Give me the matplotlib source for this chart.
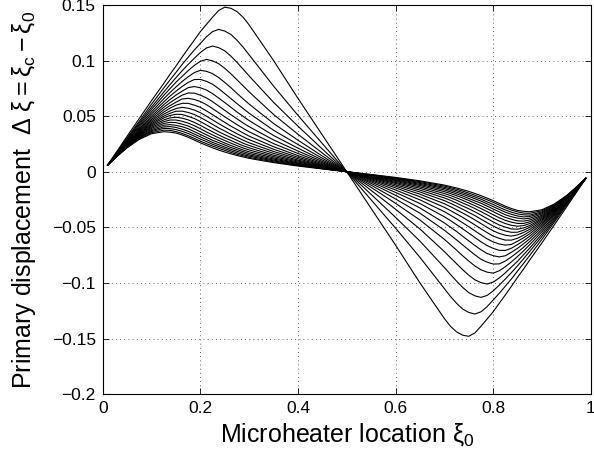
import matplotlib
matplotlib.use("Agg")
import matplotlib.pyplot as plt

plt.rcParams["font.family"] = ["Liberation Sans", "DejaVu Sans"]
plt.rcParams["mathtext.fontset"] = "custom"
plt.rcParams["mathtext.rm"] = "Liberation Sans"
plt.rcParams["mathtext.it"] = "Liberation Sans"
plt.rcParams["mathtext.default"] = "regular"

# heater positions on the left half (right half is the mirror image, y -> -y)
x_half = [0.01, 0.03, 0.05, 0.075, 0.1, 0.125, 0.1375, 0.15, 0.1625, 0.175,
          0.1875, 0.2, 0.2125, 0.225, 0.2375, 0.25, 0.2625, 0.275, 0.2875,
          0.3, 0.35, 0.4, 0.45, 0.5]

# displacement, one list per curve (largest first)
curve_1 = [0.006, 0.019, 0.032, 0.048, 0.064, 0.0794, 0.0874, 0.095, 0.103, 0.1108, 0.1183, 0.126, 0.1325, 0.139, 0.145, 0.148, 0.147, 0.144, 0.139, 0.132, 0.100, 0.066, 0.033, 0.0]
curve_2 = [0.006, 0.0182, 0.0305, 0.0455, 0.0608, 0.0753, 0.0824, 0.0893, 0.0964, 0.1029, 0.1094, 0.1154, 0.1214, 0.126, 0.128, 0.1265, 0.1235, 0.1183, 0.1121, 0.1051, 0.0770, 0.0507, 0.0253, 0.0]
curve_3 = [0.006, 0.0177, 0.0295, 0.0440, 0.0582, 0.0716, 0.0782, 0.0846, 0.0907, 0.0965, 0.1020, 0.1072, 0.1113, 0.113, 0.1116, 0.1087, 0.1040, 0.0984, 0.0923, 0.0861, 0.0624, 0.0410, 0.0204, 0.0]
curve_4 = [0.006, 0.0174, 0.0287, 0.0425, 0.0561, 0.0686, 0.0746, 0.0805, 0.0857, 0.0909, 0.0956, 0.0993, 0.101, 0.0997, 0.0972, 0.0930, 0.0881, 0.0827, 0.0773, 0.0718, 0.0515, 0.0337, 0.0168, 0.0]
curve_5 = [0.006, 0.0169, 0.0280, 0.0412, 0.0539, 0.0656, 0.0711, 0.0762, 0.0811, 0.0854, 0.0891, 0.0912, 0.0903, 0.0882, 0.0847, 0.0803, 0.0756, 0.0705, 0.0656, 0.0608, 0.0434, 0.0284, 0.0141, 0.0]
curve_6 = [0.006, 0.0167, 0.0272, 0.0399, 0.0520, 0.0628, 0.0679, 0.0724, 0.0766, 0.0803, 0.0829, 0.0830, 0.0813, 0.0787, 0.0747, 0.0703, 0.0658, 0.0613, 0.0569, 0.0526, 0.0373, 0.0245, 0.0121, 0.0]
curve_7 = [0.006, 0.0163, 0.0265, 0.0386, 0.0501, 0.0603, 0.0648, 0.0689, 0.0724, 0.0756, 0.0766, 0.0755, 0.0735, 0.0702, 0.0663, 0.0622, 0.0580, 0.0537, 0.0499, 0.0460, 0.0326, 0.0212, 0.0105, 0.0]
curve_8 = [0.006, 0.0161, 0.0259, 0.0377, 0.0485, 0.0580, 0.0620, 0.0656, 0.0688, 0.0708, 0.0707, 0.0689, 0.0664, 0.0630, 0.0591, 0.0552, 0.0513, 0.0476, 0.0439, 0.0405, 0.0286, 0.0186, 0.0092, 0.0]
curve_9 = [0.006, 0.0158, 0.0253, 0.0368, 0.0470, 0.0558, 0.0594, 0.0625, 0.0654, 0.0660, 0.0650, 0.0631, 0.0603, 0.0568, 0.0531, 0.0494, 0.0459, 0.0424, 0.0391, 0.0359, 0.0253, 0.0164, 0.0081, 0.0]
curve_10 = [0.006, 0.0156, 0.0249, 0.0361, 0.0457, 0.0537, 0.0571, 0.0598, 0.0615, 0.0615, 0.0599, 0.0579, 0.0547, 0.0513, 0.0478, 0.0444, 0.0410, 0.0380, 0.0349, 0.0320, 0.0225, 0.0145, 0.0072, 0.0]
curve_11 = [0.006, 0.0154, 0.0244, 0.0352, 0.0444, 0.0518, 0.0546, 0.0568, 0.0579, 0.0571, 0.0555, 0.0531, 0.0500, 0.0466, 0.0433, 0.0401, 0.0371, 0.0342, 0.0314, 0.0288, 0.0202, 0.0130, 0.0064, 0.0]
curve_12 = [0.006, 0.0152, 0.0242, 0.0345, 0.0432, 0.0500, 0.0525, 0.0544, 0.0545, 0.0533, 0.0515, 0.0488, 0.0458, 0.0426, 0.0394, 0.0366, 0.0337, 0.0310, 0.0284, 0.0260, 0.0182, 0.0117, 0.0057, 0.0]
curve_13 = [0.006, 0.0151, 0.0239, 0.0338, 0.0422, 0.0484, 0.0505, 0.0517, 0.0515, 0.0498, 0.0479, 0.0451, 0.0421, 0.0390, 0.0360, 0.0333, 0.0308, 0.0282, 0.0257, 0.0236, 0.0165, 0.0105, 0.0052, 0.0]
curve_14 = [0.006, 0.0149, 0.0235, 0.0331, 0.0412, 0.0466, 0.0484, 0.0490, 0.0482, 0.0466, 0.0444, 0.0417, 0.0387, 0.0359, 0.0331, 0.0305, 0.0281, 0.0256, 0.0234, 0.0215, 0.0149, 0.0096, 0.0047, 0.0]
curve_15 = [0.006, 0.0148, 0.0233, 0.0326, 0.0401, 0.0450, 0.0465, 0.0465, 0.0454, 0.0437, 0.0414, 0.0387, 0.0358, 0.0331, 0.0305, 0.0281, 0.0257, 0.0235, 0.0214, 0.0196, 0.0136, 0.0087, 0.0043, 0.0]
curve_16 = [0.006, 0.0147, 0.0230, 0.0321, 0.0391, 0.0434, 0.0444, 0.0442, 0.0428, 0.0411, 0.0386, 0.0359, 0.0332, 0.0306, 0.0282, 0.0258, 0.0236, 0.0215, 0.0196, 0.0179, 0.0124, 0.0079, 0.0039, 0.0]
curve_17 = [0.006, 0.0146, 0.0226, 0.0314, 0.0380, 0.0418, 0.0424, 0.0417, 0.0405, 0.0387, 0.0361, 0.0335, 0.0309, 0.0283, 0.0262, 0.0240, 0.0218, 0.0199, 0.0181, 0.0164, 0.0114, 0.0073, 0.0036, 0.0]
curve_18 = [0.006, 0.0144, 0.0223, 0.0308, 0.0370, 0.0403, 0.0406, 0.0398, 0.0383, 0.0364, 0.0339, 0.0314, 0.0289, 0.0264, 0.0243, 0.0222, 0.0202, 0.0184, 0.0167, 0.0151, 0.0105, 0.0066, 0.0032, 0.0]
curve_19 = [0.006, 0.0143, 0.0221, 0.0304, 0.0361, 0.0390, 0.0388, 0.0379, 0.0364, 0.0344, 0.0320, 0.0294, 0.0271, 0.0247, 0.0227, 0.0207, 0.0188, 0.0170, 0.0154, 0.0140, 0.0097, 0.0060, 0.0030, 0.0]
curve_20 = [0.006, 0.0142, 0.0219, 0.0298, 0.0351, 0.0374, 0.0372, 0.0361, 0.0345, 0.0324, 0.0300, 0.0275, 0.0252, 0.0231, 0.0211, 0.0192, 0.0174, 0.0157, 0.0143, 0.0129, 0.0089, 0.0056, 0.0027, 0.0]
curve_21 = [0.006, 0.0141, 0.0216, 0.0291, 0.0342, 0.0360, 0.0356, 0.0348, 0.0331, 0.0310, 0.0285, 0.0260, 0.0237, 0.0215, 0.0195, 0.0177, 0.0161, 0.0146, 0.0133, 0.0120, 0.0082, 0.0051, 0.0025, 0.0]

curves = [curve_1, curve_2, curve_3, curve_4, curve_5, curve_6, curve_7,
          curve_8, curve_9, curve_10, curve_11, curve_12, curve_13, curve_14,
          curve_15, curve_16, curve_17, curve_18, curve_19, curve_20, curve_21]

x_ticks = [0, 0.2, 0.4, 0.6, 0.8, 1]
x_ticklabels = ["0", "0.2", "0.4", "0.6", "0.8", "1"]
y_ticks = [-0.2, -0.15, -0.1, -0.05, 0, 0.05, 0.1, 0.15]
y_ticklabels = ["\u22120.2", "\u22120.15", "\u22120.1", "\u22120.05", "0", "0.05", "0.1", "0.15"]

# full curve = left half + mirrored right half
x_full = x_half + [1 - x for x in reversed(x_half[:-1])]

fig = plt.figure(figsize=(5.94, 4.57), dpi=100)
ax = fig.add_axes([0.173, 0.1376, 0.8215, 0.8516])

for c in curves:
    y_full = c + [-v for v in reversed(c[:-1])]
    ax.plot(x_full, y_full, color="black", linewidth=0.8)

ax.set_xlim(0, 1)
ax.set_ylim(-0.2, 0.15)
ax.set_xticks(x_ticks)
ax.set_xticklabels(x_ticklabels)
ax.set_yticks(y_ticks)
ax.set_yticklabels(y_ticklabels)

# matlab-ish look: inward ticks on all sides, dotted grid
ax.tick_params(direction="in", top=True, right=True, length=4, width=0.6,
               labelsize=12.5, pad=5)
ax.grid(True, color="#333333", linestyle=(0, (1, 4)), linewidth=0.6)
for s in ax.spines.values():
    s.set_linewidth(0.8)

ax.set_xlabel(r"Microheater location $\xi_0$", fontsize=18, labelpad=3.5)
ax.set_ylabel(r"Primary displacement  $\Delta\ \xi = \xi_c - \xi_0$", fontsize=18, labelpad=10)

fig.savefig("out.png", dpi=100)
